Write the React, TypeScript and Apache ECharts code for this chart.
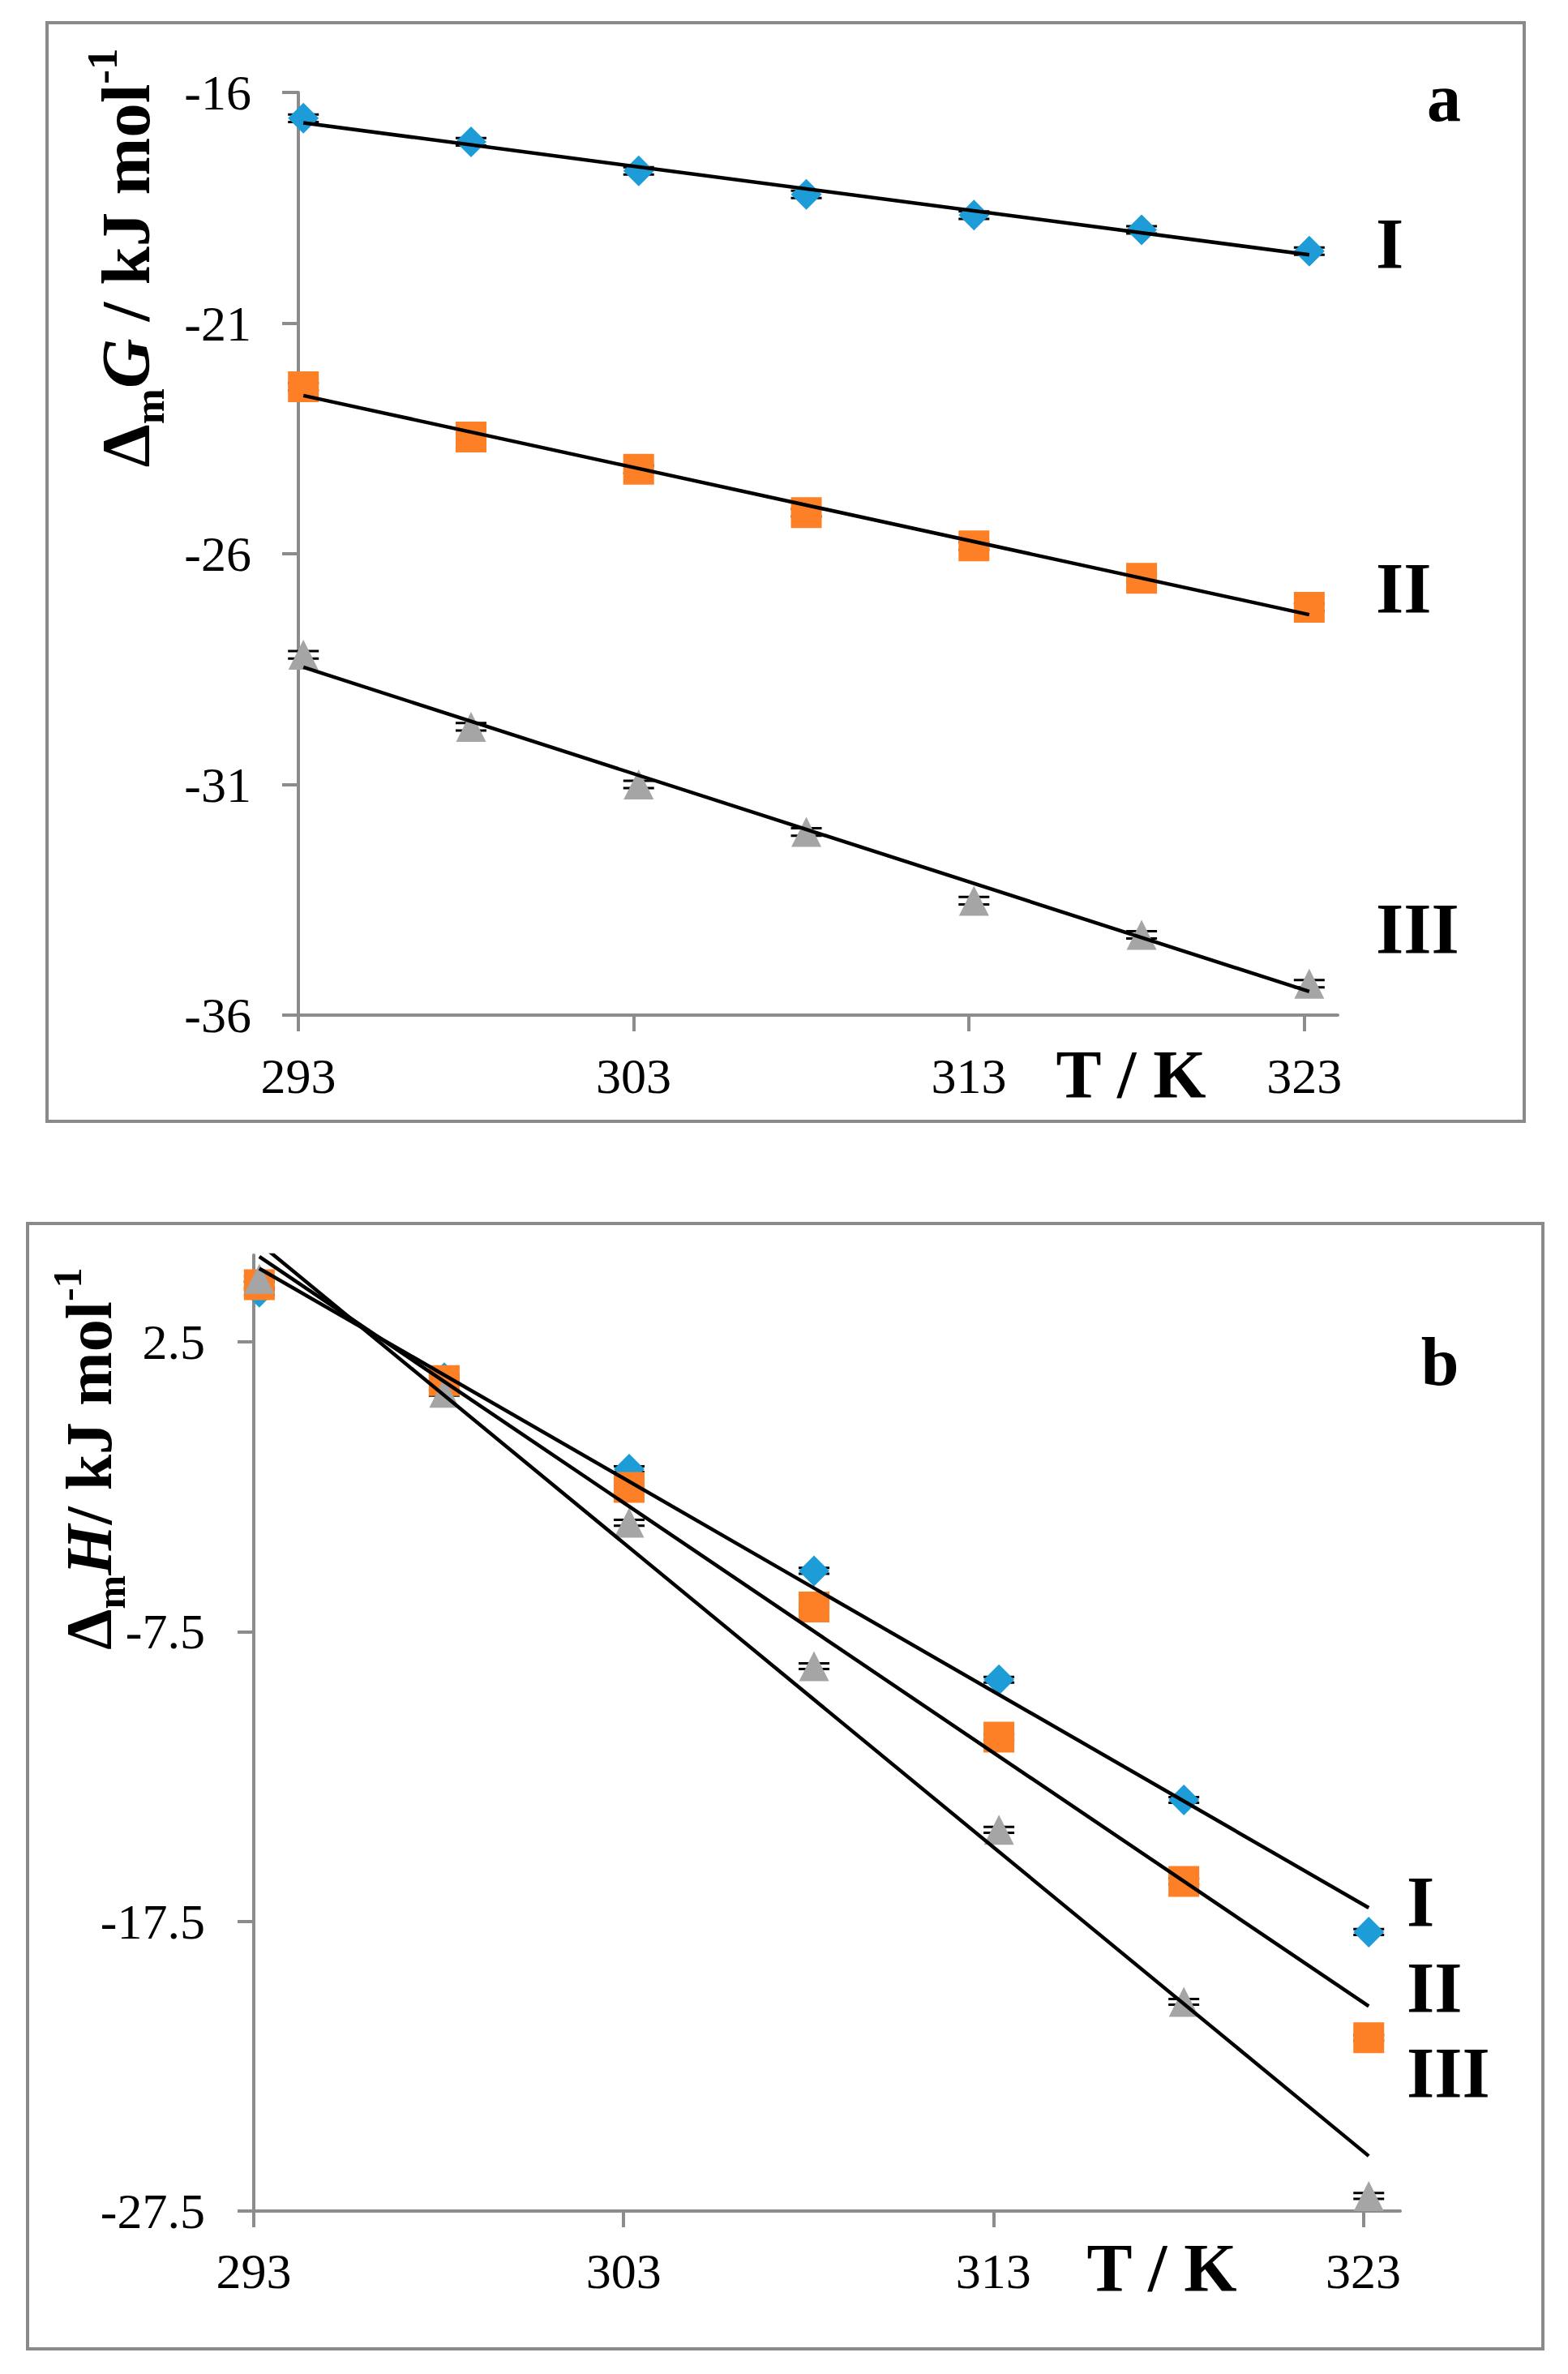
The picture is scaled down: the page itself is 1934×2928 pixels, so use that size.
import React, { useEffect, useRef } from 'react';
import * as echarts from 'echarts';

// ---------- data ----------
const temperatures = [293.15, 298.15, 303.15, 308.15, 313.15, 318.15, 323.15];
const xTickValues = [293, 303, 313, 323];
const yTickValuesA = [-36, -31, -26, -21, -16];
const yTickValuesB = [-27.5, -17.5, -7.5, 2.5];

// panel a : Gibbs energy
const gibbsI = [-16.56, -17.07, -17.7, -18.21, -18.66, -18.98, -19.44];
const gibbsII = [-22.38, -23.47, -24.17, -25.11, -25.83, -26.53, -27.16];
const gibbsIII = [-28.19, -29.75, -31.0, -32.03, -33.52, -34.26, -35.32];
const gibbsErrI = [0.08, 0.08, 0.08, 0.08, 0.08, 0.08, 0.08];
const gibbsErrII = [0.08, 0.08, 0.08, 0.08, 0.08, 0.08, 0.08];
const gibbsErrIII = [0.08, 0.08, 0.08, 0.08, 0.08, 0.08, 0.08];

// panel b : enthalpy
const enthalpyI = [4.22, 1.27, -1.89, -5.4, -9.16, -13.31, -17.87];
const enthalpyII = [4.48, 1.17, -2.52, -6.65, -11.14, -16.12, -21.52];
const enthalpyIII = [4.68, 0.75, -3.74, -8.69, -14.34, -20.28, -26.98];
const enthalpyErrI = [0.1, 0.1, 0.1, 0.1, 0.1, 0.1, 0.1];
const enthalpyErrII = [0.1, 0.1, 0.1, 0.1, 0.1, 0.1, 0.1];
const enthalpyErrIII = [0.1, 0.1, 0.1, 0.1, 0.1, 0.1, 0.1];

// linear fit lines (end points)
const fitTemps = [293.15, 323.15];
const gibbsFitI = [-16.66, -19.52];
const gibbsFitII = [-22.57, -27.32];
const gibbsFitIII = [-28.46, -35.49];
const enthalpyFitI = [5.04, -17.03];
const enthalpyFitII = [5.45, -20.43];
const enthalpyFitIII = [5.91, -25.6];

const seriesNames = ['I', 'II', 'III'];

// ---------- styles ----------
const BLUE = '#1E9CD8';
const ORANGE = '#FD8026';
const GREY = '#A5A5A5';
const AXIS_GREY = '#8C8C8C';
const SERIF = 'Liberation Serif';

const pairs = (xs: number[], ys: number[]) => xs.map((x, i) => [x, ys[i]]);
const triples = (xs: number[], ys: number[], es: number[]) => xs.map((x, i) => [x, ys[i], es[i]]);

function errorBarSeries(grid: number, data: number[][]) {
  return {
    type: 'custom',
    xAxisIndex: grid,
    yAxisIndex: grid,
    z: 1,
    silent: true,
    encode: { x: 0, y: 1 },
    data,
    renderItem: (_params: any, api: any) => {
      const x = api.value(0);
      const y = api.value(1);
      const e = api.value(2);
      const top = api.coord([x, y + e]);
      const bot = api.coord([x, y - e]);
      const hw = 19;
      const st = { stroke: '#000', lineWidth: 3 };
      return {
        type: 'group',
        children: [
          { type: 'line', shape: { x1: top[0], y1: top[1], x2: bot[0], y2: bot[1] }, style: st },
          { type: 'line', shape: { x1: top[0] - hw, y1: top[1], x2: top[0] + hw, y2: top[1] }, style: st },
          { type: 'line', shape: { x1: bot[0] - hw, y1: bot[1], x2: bot[0] + hw, y2: bot[1] }, style: st },
        ],
      };
    },
  };
}

function scatterSeries(grid: number, name: string, data: number[][], symbol: string, size: number, color: string) {
  return {
    type: 'scatter',
    name,
    xAxisIndex: grid,
    yAxisIndex: grid,
    z: 2,
    symbol,
    symbolSize: size,
    itemStyle: { color, opacity: 1 },
    data,
  };
}

function fitSeries(grid: number, data: number[][]) {
  return {
    type: 'line',
    xAxisIndex: grid,
    yAxisIndex: grid,
    z: 3,
    symbol: 'none',
    clip: true,
    silent: true,
    lineStyle: { color: '#000', width: 4.5 },
    data,
  };
}

function axisBase(ticks: number[], margin: number) {
  return {
    type: 'value',
    axisLine: { show: true, onZero: false, lineStyle: { color: AXIS_GREY, width: 4 } },
    axisTick: { show: true, inside: false, length: 20, customValues: ticks, lineStyle: { color: AXIS_GREY, width: 4 } },
    splitLine: { show: false },
    axisLabel: { customValues: ticks, margin, color: '#000', fontFamily: SERIF, fontSize: 62 },
  };
}

function nameRich(F: number) {
  const base = { fontFamily: SERIF, fontWeight: 'bold', fill: '#000', fontSize: F, lineHeight: Math.round(F * 1.3) };
  return {
    d: { ...base },
    g: { ...base, fontStyle: 'italic' },
    n: { ...base },
    s: { fontFamily: SERIF, fontWeight: 'bold', fill: '#000', fontSize: Math.round(F * 0.62), lineHeight: Math.round(F * 0.54), verticalAlign: 'bottom' },
    p: { fontFamily: SERIF, fontWeight: 'bold', fill: '#000', fontSize: Math.round(F * 0.62), lineHeight: Math.round(F * 0.87), verticalAlign: 'top' },
  };
}

function label(text: string, x: number, y: number, size: number, align: string) {
  return {
    type: 'text',
    x,
    y,
    z: 10,
    style: { text, fontFamily: SERIF, fontWeight: 'bold', fontSize: size, fill: '#000', align, verticalAlign: 'middle' },
  };
}

export default function App() {
  const ref = useRef<HTMLDivElement>(null);

  useEffect(() => {
    if (!ref.current) return;
    const chart = echarts.init(ref.current, null, { renderer: 'svg' });

    const option: any = {
      animation: false,
      backgroundColor: '#fff',
      textStyle: { fontFamily: SERIF },
      grid: [
        { left: 368, top: 114, width: 1282, height: 1138 },
        { left: 313, top: 1548, width: 1414, height: 1179 },
      ],
      xAxis: [
        { ...axisBase(xTickValues, 44), gridIndex: 0, min: 293, max: 324 },
        { ...axisBase(xTickValues, 43), gridIndex: 1, min: 293, max: 324 },
      ],
      yAxis: [
        { ...axisBase(yTickValuesA, 58), gridIndex: 0, min: -36, max: -16 },
        { ...axisBase(yTickValuesB, 60), gridIndex: 1, min: -27.5, max: 5.5 },
      ],
      series: [
        errorBarSeries(0, triples(temperatures, gibbsI, gibbsErrI)),
        errorBarSeries(0, triples(temperatures, gibbsII, gibbsErrII)),
        errorBarSeries(0, triples(temperatures, gibbsIII, gibbsErrIII)),
        scatterSeries(0, seriesNames[0], pairs(temperatures, gibbsI), 'diamond', 38, BLUE),
        scatterSeries(0, seriesNames[1], pairs(temperatures, gibbsII), 'rect', 38, ORANGE),
        scatterSeries(0, seriesNames[2], pairs(temperatures, gibbsIII), 'triangle', 37, GREY),
        fitSeries(0, pairs(fitTemps, gibbsFitI)),
        fitSeries(0, pairs(fitTemps, gibbsFitII)),
        fitSeries(0, pairs(fitTemps, gibbsFitIII)),

        errorBarSeries(1, triples(temperatures, enthalpyI, enthalpyErrI)),
        errorBarSeries(1, triples(temperatures, enthalpyII, enthalpyErrII)),
        errorBarSeries(1, triples(temperatures, enthalpyIII, enthalpyErrIII)),
        scatterSeries(1, seriesNames[0], pairs(temperatures, enthalpyI), 'diamond', 38, BLUE),
        scatterSeries(1, seriesNames[1], pairs(temperatures, enthalpyII), 'rect', 38, ORANGE),
        scatterSeries(1, seriesNames[2], pairs(temperatures, enthalpyIII), 'triangle', 37, GREY),
        fitSeries(1, pairs(fitTemps, enthalpyFitI)),
        fitSeries(1, pairs(fitTemps, enthalpyFitII)),
        fitSeries(1, pairs(fitTemps, enthalpyFitIII)),
      ],
      graphic: [
        { type: 'rect', z: -10, shape: { x: 58, y: 28, width: 1822, height: 1355 }, style: { fill: 'none', stroke: '#8A8A8A', lineWidth: 4 } },
        { type: 'rect', z: -10, shape: { x: 34, y: 1509, width: 1869, height: 1388 }, style: { fill: 'none', stroke: '#8A8A8A', lineWidth: 4 } },
        {
          type: 'text', x: 155, y: 318, rotation: Math.PI / 2, z: 10,
          style: { text: '{d|Δ}{s|m}{g|G}{n| / kJ mol}{p|-1}', rich: nameRich(85), align: 'center', verticalAlign: 'middle' },
        },
        {
          type: 'text', x: 110, y: 1799, rotation: Math.PI / 2, z: 10,
          style: { text: '{d|Δ}{s|m}{g|H}{n|/ kJ mol}{p|-1}', rich: nameRich(80), align: 'center', verticalAlign: 'middle' },
        },
        label('a', 1781, 120, 84, 'center'),
        label('I', 1697, 300, 88, 'left'),
        label('II', 1697, 725, 88, 'left'),
        label('III', 1697, 1145, 88, 'left'),
        label('T / K', 1395, 1325, 84, 'center'),
        label('b', 1776, 1679, 84, 'center'),
        label('I', 1735, 2345, 88, 'left'),
        label('II', 1735, 2451, 88, 'left'),
        label('III', 1735, 2556, 88, 'left'),
        label('T / K', 1433, 2797, 84, 'center'),
      ],
    };

    chart.setOption(option);
    return () => chart.dispose();
  }, []);

  return (
    <div
      ref={ref}
      style={{ position: 'absolute', left: 0, top: 0, width: 1934, height: 2928, background: '#fff' }}
    />
  );
}
